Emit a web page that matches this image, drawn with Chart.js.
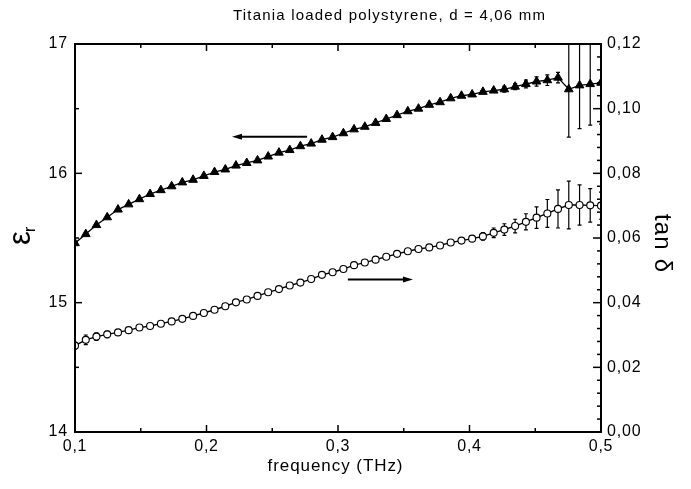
<!DOCTYPE html>
<html>
<head>
<meta charset="utf-8">
<script src="https://cdn.jsdelivr.net/npm/chart.js@4.4.1/dist/chart.umd.min.js"></script>
<style>
  html, body { margin: 0; padding: 0; background: #fff; }
  #wrap { width: 691px; height: 489px; }
</style>
</head>
<body>
<div id="wrap"><canvas id="myChart" width="691" height="489"></canvas></div>
<script>
// frequency points (THz)
const freq = [0.1000, 0.1082, 0.1163, 0.1245, 0.1327, 0.1408, 0.1490, 0.1571, 0.1653, 0.1735,
  0.1816, 0.1898, 0.1980, 0.2061, 0.2143, 0.2224, 0.2306, 0.2388, 0.2469, 0.2551,
  0.2633, 0.2714, 0.2796, 0.2878, 0.2959, 0.3041, 0.3122, 0.3204, 0.3286, 0.3367,
  0.3449, 0.3531, 0.3612, 0.3694, 0.3776, 0.3857, 0.3939, 0.4020, 0.4102, 0.4184,
  0.4265, 0.4347, 0.4429, 0.4510, 0.4592, 0.4673, 0.4755, 0.4837, 0.4918, 0.5000];

// eps_r (left axis, filled triangles)
const epsR = [15.46, 15.53, 15.60, 15.66, 15.72, 15.76, 15.80, 15.84, 15.87, 15.90,
  15.93, 15.95, 15.98, 16.01, 16.03, 16.06, 16.08, 16.10, 16.13, 16.16,
  16.18, 16.21, 16.23, 16.26, 16.28, 16.31, 16.34, 16.36, 16.39, 16.42,
  16.45, 16.48, 16.50, 16.53, 16.55, 16.58, 16.60, 16.61, 16.63, 16.64,
  16.65, 16.67, 16.69, 16.71, 16.72, 16.74, 16.65, 16.68, 16.69, 16.70];
const epsErr = [0, 0, 0, 0, 0, 0, 0, 0, 0, 0,
  0, 0, 0, 0, 0, 0, 0, 0, 0, 0,
  0, 0, 0, 0, 0, 0, 0, 0, 0, 0,
  0, 0, 0, 0, 0, 0, 0.008, 0.01, 0.01, 0.015,
  0.023, 0.023, 0.03, 0.036, 0.041, 0.041, 0.37, 0.335, 0.317, 0.32];

// tan delta (right axis, open circles)
const tanD = [0.0267, 0.0285, 0.0295, 0.0302, 0.0308, 0.0315, 0.0323, 0.0328, 0.0335, 0.0342,
  0.0350, 0.0359, 0.0368, 0.0378, 0.0389, 0.0401, 0.0410, 0.0421, 0.0432, 0.0442,
  0.0453, 0.0462, 0.0473, 0.0486, 0.0494, 0.0504, 0.0516, 0.0524, 0.0533, 0.0542,
  0.0551, 0.0559, 0.0566, 0.0571, 0.0577, 0.0586, 0.0592, 0.0598, 0.0605, 0.0616,
  0.0626, 0.0637, 0.0650, 0.0663, 0.0676, 0.0690, 0.0702, 0.0702, 0.0701, 0.0700];
const tanErr = [0.001, 0.0015, 0.0012, 0.001, 0.0009, 0.0008, 0.0007, 0.0006, 0.0005, 0.0005,
  0.0004, 0.0004, 0.0004, 0.0004, 0.0004, 0.0004, 0.0004, 0.0004, 0.0004, 0.0004,
  0.0004, 0.0004, 0.0004, 0.0004, 0.0004, 0.0004, 0.0004, 0.0004, 0.0004, 0.0004,
  0.0005, 0.0005, 0.0005, 0.0006, 0.0006, 0.0007, 0.0007, 0.0008, 0.0012, 0.0015,
  0.0018, 0.0021, 0.0025, 0.0033, 0.0043, 0.0059, 0.0074, 0.0062, 0.0052, 0.0042];

// ticks
const xTicks = [0.1, 0.2, 0.3, 0.4, 0.5];
const epsTicks = [14, 15, 16, 17];
const tanTicks = [0, 0.02, 0.04, 0.06, 0.08, 0.10, 0.12];

// arrows: [tail, tip] in data units
const arrowEps = [[0.2765, 16.283], [0.2194, 16.283]];
const arrowTan = [[0.3075, 0.0472], [0.3570, 0.0472]];

const titleText = 'Titania loaded polystyrene, d = 4,06 mm';
const xTitle = 'frequency (THz)';
const y1Title = 'tan δ';

const FONT = '"Liberation Sans", Arial, sans-serif';

function fitText(ctx, txt, x, y, rot, size, width) {
  ctx.save();
  ctx.font = size + 'px ' + FONT;
  ctx.letterSpacing = '0px';
  const w = ctx.measureText(txt).width;
  const ls = Math.max(0, (width - w) / (txt.length - 1));
  ctx.letterSpacing = ls.toFixed(2) + 'px';
  ctx.translate(x, y);
  ctx.rotate(rot);
  ctx.fillStyle = '#000';
  ctx.textAlign = 'left';
  ctx.textBaseline = 'middle';
  ctx.fillText(txt, -width / 2, 0);
  ctx.restore();
}

function drawArrow(ctx, x0, y0, x1, y1) {
  const dir = Math.sign(x1 - x0);
  ctx.beginPath();
  ctx.lineWidth = 2;
  ctx.moveTo(x0, y0);
  ctx.lineTo(x1 - dir * 6, y1);
  ctx.stroke();
  ctx.beginPath();
  ctx.moveTo(x1, y1);
  ctx.lineTo(x1 - dir * 10, y1 - 3);
  ctx.lineTo(x1 - dir * 10, y1 + 3);
  ctx.closePath();
  ctx.fill();
}

const overlay = {
  id: 'overlay',
  beforeDraw(chart) {
    // slightly spaced tick labels, like the scanned original
    chart.ctx.letterSpacing = '0.8px';
  },
  beforeDatasetsDraw(chart) {
    const { ctx, chartArea: a, scales } = chart;
    ctx.save();
    ctx.beginPath();
    ctx.rect(a.left, a.top, a.right - a.left, a.bottom - a.top);
    ctx.clip();
    ctx.strokeStyle = '#000';
    ctx.lineWidth = 1.2;
    const bars = (vals, errs, sc) => {
      vals.forEach((v, i) => {
        if (!errs[i]) return;
        const px = scales.x.getPixelForValue(freq[i]);
        const top = sc.getPixelForValue(v + errs[i]);
        const bot = sc.getPixelForValue(v - errs[i]);
        ctx.beginPath();
        ctx.moveTo(px, top); ctx.lineTo(px, bot);
        ctx.moveTo(px - 2, top); ctx.lineTo(px + 2, top);
        ctx.moveTo(px - 2, bot); ctx.lineTo(px + 2, bot);
        ctx.stroke();
      });
    };
    bars(epsR, epsErr, scales.y);
    bars(tanD, tanErr, scales.y1);
    ctx.restore();
  },
  afterDatasetsDraw(chart) {
    const { ctx, scales } = chart;
    ctx.save();
    ctx.strokeStyle = '#000';
    ctx.fillStyle = '#000';
    drawArrow(ctx,
      scales.x.getPixelForValue(arrowEps[0][0]), scales.y.getPixelForValue(arrowEps[0][1]),
      scales.x.getPixelForValue(arrowEps[1][0]), scales.y.getPixelForValue(arrowEps[1][1]));
    drawArrow(ctx,
      scales.x.getPixelForValue(arrowTan[0][0]), scales.y1.getPixelForValue(arrowTan[0][1]),
      scales.x.getPixelForValue(arrowTan[1][0]), scales.y1.getPixelForValue(arrowTan[1][1]));
    ctx.restore();
  },
  afterDraw(chart) {
    const { ctx, chartArea: a, scales } = chart;
    ctx.letterSpacing = '0px';
    ctx.save();
    ctx.strokeStyle = '#000';
    // frame
    ctx.lineWidth = 2;
    ctx.strokeRect(a.left, a.top, a.right - a.left, a.bottom - a.top);
    // inward ticks
    ctx.lineWidth = 1.5;
    const sub = (ticks, n) => {
      const out = [];
      for (let i = 0; i < ticks.length - 1; i++) {
        for (let k = 1; k < n; k++) out.push(ticks[i] + (ticks[i + 1] - ticks[i]) * k / n);
      }
      return out;
    };
    const hTick = (vals, len) => vals.forEach(v => {
      const px = scales.x.getPixelForValue(v);
      ctx.beginPath();
      ctx.moveTo(px, a.bottom); ctx.lineTo(px, a.bottom - len);
      ctx.moveTo(px, a.top); ctx.lineTo(px, a.top + len);
      ctx.stroke();
    });
    hTick(xTicks, 7);
    hTick(sub(xTicks, 2), 4);
    epsTicks.concat(sub(epsTicks, 2)).forEach((v, i) => {
      const py = scales.y.getPixelForValue(v);
      ctx.beginPath();
      ctx.moveTo(a.left, py); ctx.lineTo(a.left + (i < epsTicks.length ? 7 : 4), py);
      ctx.stroke();
    });
    tanTicks.concat(sub(tanTicks, 5)).forEach((v, i) => {
      const py = scales.y1.getPixelForValue(v);
      ctx.beginPath();
      ctx.moveTo(a.right, py); ctx.lineTo(a.right - (i < tanTicks.length ? 8 : 4), py);
      ctx.stroke();
    });
    ctx.restore();

    // titles
    fitText(ctx, titleText, 389, 16, 0, 15, 312);
    fitText(ctx, xTitle, 335, 466, 0, 17, 135);
    fitText(ctx, y1Title, 662, 243, Math.PI / 2, 24, 58);

    // eps_r label with subscript
    ctx.save();
    ctx.translate(21, 238);
    ctx.rotate(-Math.PI / 2);
    ctx.fillStyle = '#000';
    ctx.textBaseline = 'middle';
    ctx.textAlign = 'center';
    ctx.font = '31px ' + FONT;
    ctx.fillText('ε', 0, 0);
    ctx.font = '16px ' + FONT;
    ctx.textAlign = 'left';
    ctx.fillText('r', 6, 10);
    ctx.restore();
  }
};

const fixTicks = arr => s => { s.ticks = arr.map(v => ({ value: v })); };

const ctx = document.getElementById('myChart');
const myChart = new Chart(ctx, {
  type: 'line',
  data: {
    datasets: [{
      label: 'eps_r',
      data: freq.map((f, i) => ({ x: f, y: epsR[i] })),
      yAxisID: 'y',
      borderColor: '#000',
      borderWidth: 1.3,
      pointStyle: 'triangle',
      pointRadius: 5,
      pointBackgroundColor: '#000',
      pointBorderColor: '#000',
      pointBorderWidth: 1,
      tension: 0,
      clip: 0
    }, {
      label: 'tan d',
      data: freq.map((f, i) => ({ x: f, y: tanD[i] })),
      yAxisID: 'y1',
      borderColor: '#000',
      borderWidth: 1.4,
      pointStyle: 'circle',
      pointRadius: 3.5,
      pointBackgroundColor: '#fff',
      pointBorderColor: '#000',
      pointBorderWidth: 1.1,
      tension: 0,
      clip: 0
    }]
  },
  options: {
    responsive: false,
    animation: false,
    devicePixelRatio: 1,
    layout: { padding: { top: 44, left: 0, right: 0, bottom: 0 } },
    plugins: { legend: { display: false }, tooltip: { enabled: false } },
    scales: {
      x: {
        type: 'linear',
        min: 0.1, max: 0.5,
        afterBuildTicks: fixTicks(xTicks),
        afterFit: s => { s.height = 57; },
        grid: { display: false, drawTicks: false },
        border: { display: false },
        ticks: {
          padding: 5, maxRotation: 0, autoSkip: false, color: '#000',
          font: { family: FONT, size: 16 },
          callback: v => v.toFixed(1).replace('.', ',')
        }
      },
      y: {
        position: 'left',
        min: 14, max: 17,
        afterBuildTicks: fixTicks(epsTicks),
        afterFit: s => { s.width = 75; },
        grid: { display: false, drawTicks: false },
        border: { display: false },
        ticks: {
          padding: 7, color: '#000',
          font: { family: FONT, size: 16 },
          callback: v => String(v)
        }
      },
      y1: {
        position: 'right',
        min: 0, max: 0.12,
        afterBuildTicks: fixTicks(tanTicks),
        afterFit: s => { s.width = 90; },
        grid: { display: false, drawTicks: false },
        border: { display: false },
        ticks: {
          padding: 6, color: '#000',
          font: { family: FONT, size: 16 },
          callback: v => v.toFixed(2).replace('.', ',')
        }
      }
    }
  },
  plugins: [overlay]
});
</script>
</body>
</html>
